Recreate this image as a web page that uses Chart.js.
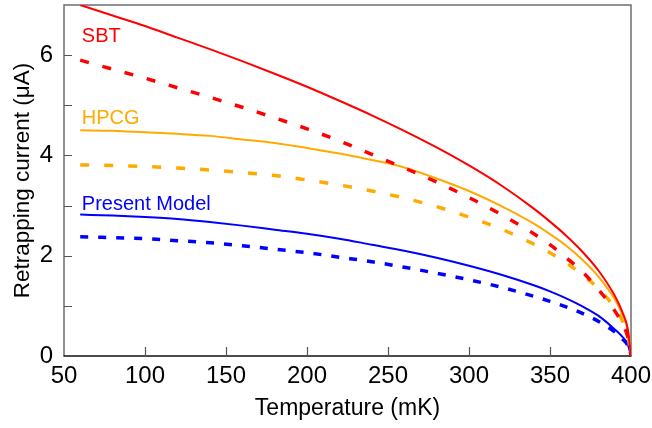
<!DOCTYPE html>
<html>
<head>
<meta charset="utf-8">
<script src="https://cdn.jsdelivr.net/npm/chart.js@4"></script>
<style>
html,body{margin:0;padding:0;background:#fff;}
canvas{display:block;}
</style>
</head>
<body>
<canvas id="c" width="652" height="428"></canvas>
<script>
// ---- Data ----
const temperatures = [60,80,100,120,140,160,180,200,220,240,260,280,300,320,340,350,360,370,380,390,395,398,400];
const sbtSolid   = [7.00,6.79,6.58,6.35,6.12,5.88,5.63,5.37,5.09,4.80,4.49,4.16,3.80,3.40,2.94,2.68,2.40,2.08,1.70,1.20,0.85,0.54,0];
const sbtDashed  = [5.90,5.72,5.54,5.35,5.16,4.96,4.75,4.53,4.29,4.02,3.75,3.47,3.16,2.82,2.44,2.22,1.96,1.68,1.32,0.90,0.62,0.38,0];
const hpcgSolid  = [4.50,4.49,4.46,4.43,4.39,4.32,4.25,4.15,4.04,3.91,3.76,3.54,3.29,2.99,2.64,2.43,2.20,1.92,1.58,1.13,0.80,0.51,0];
const hpcgDashed = [3.81,3.80,3.78,3.75,3.71,3.66,3.60,3.51,3.41,3.29,3.15,2.98,2.77,2.53,2.23,2.06,1.86,1.62,1.34,0.96,0.68,0.43,0];
const presSolid  = [2.82,2.80,2.77,2.73,2.67,2.60,2.52,2.44,2.34,2.22,2.10,1.96,1.80,1.62,1.41,1.29,1.15,0.99,0.80,0.53,0.37,0.23,0];
const presDashed = [2.38,2.36,2.34,2.30,2.26,2.20,2.13,2.06,1.97,1.88,1.77,1.65,1.52,1.37,1.19,1.09,0.98,0.85,0.69,0.48,0.33,0.21,0];
const xTickValues = [50,100,150,200,250,300,350,400];
const yLabelValues = [0,2,4,6];
const seriesLabels = ['SBT','HPCG','Present Model'];
const labelAnchors = [[61,6.26],[61,4.62],[61,2.91]];

const RED = '#ff0000', ORANGE = '#ffaa00', BLUE = '#0000ff';
const FONT = '"Liberation Sans", Arial, sans-serif';

function pts(arr){ return temperatures.map((t,i)=>({x:t,y:arr[i]})); }
function ds(label, arr, color, dashed, dash){
  return {
    label, data: pts(arr), borderColor: color, backgroundColor: color,
    borderWidth: dashed ? 3.5 : 2, borderDash: dashed ? dash : [],
    pointRadius: 0, fill: false, cubicInterpolationMode: 'monotone'
  };
}

const framePlugin = {
  id: 'frame',
  beforeDatasetsDraw(chart){
    const {ctx, chartArea:a, scales:{x,y}} = chart;
    ctx.save();
    ctx.strokeStyle = '#6e6e6e';
    ctx.lineWidth = 1.5;
    ctx.beginPath();
    ctx.moveTo(a.left, a.bottom); ctx.lineTo(a.left, a.top);
    ctx.lineTo(a.right, a.top); ctx.lineTo(a.right, a.bottom);
    ctx.stroke();
    ctx.strokeStyle = '#111';
    ctx.beginPath(); ctx.moveTo(a.left-0.5, a.bottom); ctx.lineTo(a.right+0.5, a.bottom); ctx.stroke();
    // inward tick marks
    ctx.strokeStyle = '#555';
    ctx.lineWidth = 1.2;
    ctx.beginPath();
    xTickValues.forEach(v=>{
      if (v===50 || v===400) return;
      const px = Math.round(x.getPixelForValue(v))+0.5;
      ctx.moveTo(px, a.bottom); ctx.lineTo(px, a.bottom-9);
    });
    for (let v=1; v<=6; v++){
      const py = Math.round(y.getPixelForValue(v))+0.5;
      ctx.moveTo(a.left, py); ctx.lineTo(a.left+8, py);
    }
    ctx.stroke();
    ctx.restore();
  },
  afterDatasetsDraw(chart){
    const {ctx, scales:{x,y}} = chart;
    const colors = [RED, ORANGE, BLUE];
    ctx.save();
    ctx.font = '20px ' + FONT;
    ctx.textBaseline = 'alphabetic';
    ctx.textAlign = 'left';
    seriesLabels.forEach((s,i)=>{
      ctx.fillStyle = colors[i];
      ctx.fillText(s, x.getPixelForValue(labelAnchors[i][0]), y.getPixelForValue(labelAnchors[i][1]));
    });
    ctx.restore();
  }
};

new Chart(document.getElementById('c'), {
  type: 'line',
  data: {
    datasets: [
      ds('SBT', sbtSolid, RED, false),
      ds('SBT dashed', sbtDashed, RED, true, [9,14]),
      ds('HPCG', hpcgSolid, ORANGE, false),
      ds('HPCG dashed', hpcgDashed, ORANGE, true, [9,15]),
      ds('Present Model', presSolid, BLUE, false),
      ds('Present Model dashed', presDashed, BLUE, true, [8,10])
    ]
  },
  options: {
    responsive: false,
    animation: false,
    devicePixelRatio: 1,
    layout: { padding: { top: 5, right: 21, left: 0, bottom: 0 } },
    plugins: { legend: { display: false }, tooltip: { enabled: false } },
    scales: {
      x: {
        type: 'linear', min: 50, max: 400,
        afterFit(s){ s.height = 72; s.paddingLeft = 0; s.paddingRight = 0; },
        afterBuildTicks(s){ s.ticks = xTickValues.map(v=>({value:v})); },
        grid: { display: false, drawTicks: false },
        border: { display: false },
        ticks: { color: '#000', font: { family: FONT, size: 24 }, padding: 6, maxRotation: 0, autoSkip: false },
        title: { display: true, text: 'Temperature (mK)', color: '#000', font: { family: FONT, size: 23 }, padding: { top: 0, bottom: 6 } }
      },
      y: {
        type: 'linear', min: 0, max: 7,
        afterFit(s){ s.width = 64; s.paddingTop = 0; s.paddingBottom = 0; },
        afterBuildTicks(s){ s.ticks = yLabelValues.map(v=>({value:v})); },
        grid: { display: false, drawTicks: false },
        border: { display: false },
        ticks: { color: '#000', font: { family: FONT, size: 24 }, padding: 11, autoSkip: false },
        title: { display: true, text: 'Retrapping current (μA)', color: '#000', font: { family: FONT, size: 22.5 }, padding: { top: 9, bottom: 0 } }
      }
    }
  },
  plugins: [framePlugin]
});
</script>
</body>
</html>
